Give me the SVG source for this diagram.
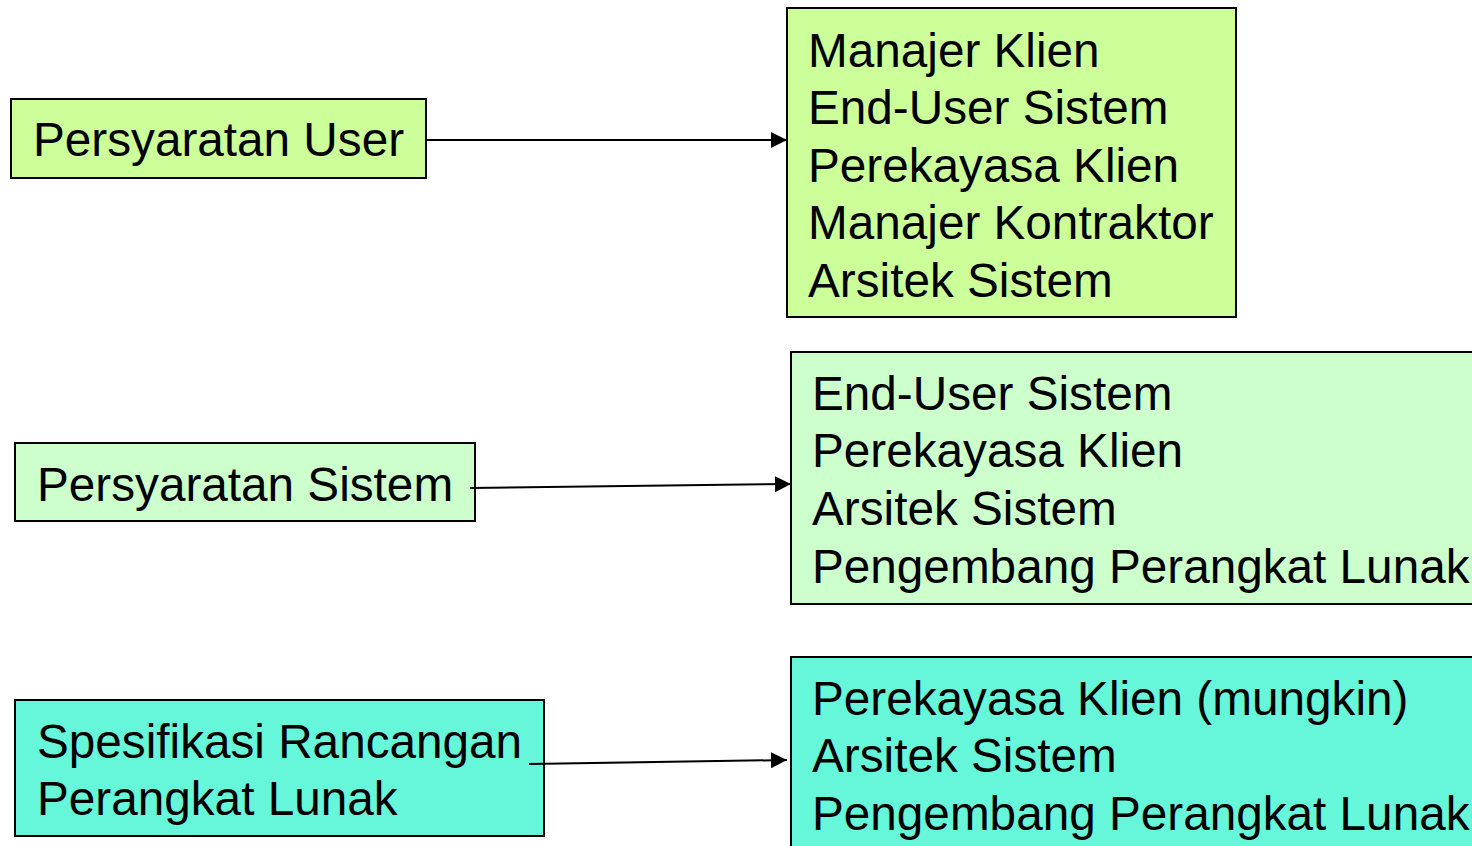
<svg xmlns="http://www.w3.org/2000/svg" width="1472" height="846" viewBox="0 0 1472 846">
<style>
.box{stroke:#000;stroke-width:2}
.t{font-family:"Liberation Sans",Arial,sans-serif;font-size:47.7px;fill:#000}
.c{stroke:#000;stroke-width:2;fill:none;marker-end:url(#ah)}
</style>
<defs>
<marker id="ah" viewBox="0 0 10 10" refX="10" refY="5" markerWidth="16" markerHeight="16" markerUnits="userSpaceOnUse" orient="auto">
<path d="M0,0 L10,5 L0,10 Z" fill="#000"/>
</marker>
</defs>
<rect width="1472" height="846" fill="#fff"/>
<g id="n1">
<rect class="box" x="11" y="99" width="415" height="79" fill="#CCFF99"/>
<text class="t" x="33" y="156">Persyaratan User</text>
</g>
<g id="n2">
<rect class="box" x="15" y="443" width="460" height="78" fill="#CCFFCC"/>
<text class="t" x="37" y="501">Persyaratan Sistem</text>
</g>
<g id="n3">
<rect class="box" x="15" y="700" width="529" height="136" fill="#66F7DA"/>
<text class="t" x="37" y="758">Spesifikasi Rancangan</text>
<text class="t" x="37" y="815">Perangkat Lunak</text>
</g>
<g id="r1">
<rect class="box" x="787" y="8" width="449" height="309" fill="#CCFF99"/>
<text class="t" x="808" y="67">Manajer Klien</text>
<text class="t" x="808" y="124">End-User Sistem</text>
<text class="t" x="808" y="182">Perekayasa Klien</text>
<text class="t" x="808" y="239">Manajer Kontraktor</text>
<text class="t" x="808" y="297">Arsitek Sistem</text>
</g>
<g id="r2">
<rect class="box" x="791" y="352" width="700" height="252" fill="#CCFFCC"/>
<text class="t" x="812" y="410">End-User Sistem</text>
<text class="t" x="812" y="467">Perekayasa Klien</text>
<text class="t" x="812" y="525">Arsitek Sistem</text>
<text class="t" x="812" y="583">Pengembang Perangkat Lunak</text>
</g>
<g id="r3">
<rect class="box" x="791" y="657" width="700" height="220" fill="#66F7DA"/>
<text class="t" x="812" y="715">Perekayasa Klien (mungkin)</text>
<text class="t" x="812" y="772">Arsitek Sistem</text>
<text class="t" x="812" y="830">Pengembang Perangkat Lunak</text>
</g>
<g id="connectors">
<line class="c" x1="426" y1="140" x2="787" y2="140"/>
<line class="c" x1="470" y1="488" x2="791" y2="484"/>
<line class="c" x1="529" y1="764" x2="787" y2="760"/>
</g>
</svg>
